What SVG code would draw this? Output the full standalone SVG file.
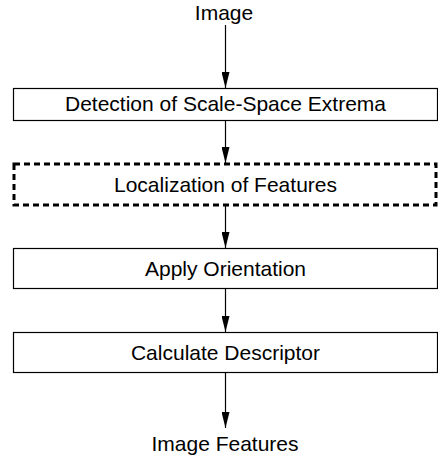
<svg xmlns="http://www.w3.org/2000/svg" width="438" height="461" viewBox="0 0 438 461">
  <style>
    .box { fill: #ffffff; stroke: #000000; stroke-width: 1.2; }
    .dashed { fill: #ffffff; stroke: #000000; stroke-width: 3; stroke-dasharray: 6 4; }
    .label { font-family: "Liberation Sans", Arial, sans-serif; font-size: 21px; fill: #000000; text-anchor: middle; }
    .edge { stroke: #000000; stroke-width: 1.2; fill: none; marker-end: url(#arrow); }
  </style>
  <defs>
    <!-- filled triangular arrowhead, 16 long by 8 wide, tip on the line end -->
    <marker id="arrow" markerWidth="16" markerHeight="8" refX="16" refY="4" orient="auto" markerUnits="userSpaceOnUse" viewBox="0 0 16 8">
      <path d="M0,0 L16,4 L0,8 Z" fill="#000000"/>
    </marker>
  </defs>
  <rect width="438" height="461" fill="#ffffff"/>

  <g id="connectors">
    <line class="edge" x1="225.5" y1="25" x2="225.5" y2="88"/>
    <line class="edge" x1="225.5" y1="120" x2="225.5" y2="163"/>
    <line class="edge" x1="225.5" y1="205" x2="225.5" y2="248"/>
    <line class="edge" x1="225.5" y1="289" x2="225.5" y2="332"/>
    <line class="edge" x1="225.5" y1="373" x2="225.5" y2="428"/>
  </g>

  <g id="input">
    <text class="label" x="224" y="20">Image</text>
  </g>

  <g id="detection">
    <rect class="box" x="13.5" y="88.5" width="424" height="32"/>
    <text class="label" x="225.5" y="111">Detection of Scale-Space Extrema</text>
  </g>

  <g id="localization">
    <rect class="dashed" x="14" y="164" width="422" height="41"/>
    <text class="label" x="225.5" y="192">Localization of Features</text>
  </g>

  <g id="orientation">
    <rect class="box" x="13.5" y="248.5" width="424" height="40"/>
    <text class="label" x="225.5" y="276">Apply Orientation</text>
  </g>

  <g id="descriptor">
    <rect class="box" x="13.5" y="332.5" width="424" height="40"/>
    <text class="label" x="225.5" y="360">Calculate Descriptor</text>
  </g>

  <g id="output">
    <text class="label" x="225" y="451">Image Features</text>
  </g>
</svg>
